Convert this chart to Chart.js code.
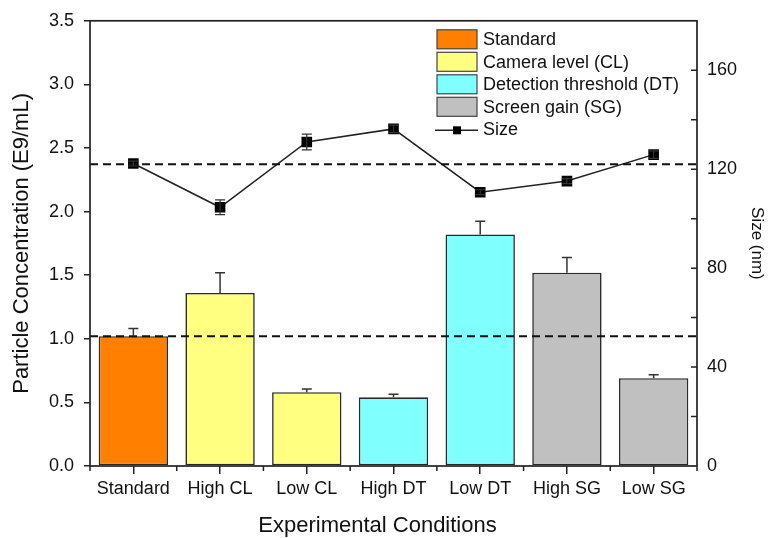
<!DOCTYPE html>
<html><head><meta charset="utf-8">
<script src="https://cdn.jsdelivr.net/npm/chart.js@4/dist/chart.umd.min.js"></script>
<style>html,body{margin:0;padding:0;background:#fff}canvas{display:block}</style>
</head><body>
<canvas id="c" width="776" height="538"></canvas>
<script>
// ---- data ----
const categories = ['Standard', 'High CL', 'Low CL', 'High DT', 'Low DT', 'High SG', 'Low SG'];
const concentration = [1.02, 1.36, 0.58, 0.54, 1.82, 1.52, 0.69];
const concentrationErr = [0.06, 0.16, 0.025, 0.025, 0.105, 0.12, 0.027];
const sizeNm = [122.3, 104.6, 131.0, 136.3, 110.7, 115.2, 125.9];
const sizeErr = [1.0, 3.0, 3.2, 1.5, 1.0, 1.0, 1.5];
const groupLabels = ['Standard', 'Camera level (CL)', 'Detection threshold (DT)', 'Screen gain (SG)'];
const groupOfCategory = [0, 1, 1, 2, 2, 3, 3];
const groupColors = ['#FF8000', '#FFFF80', '#80FFFF', '#C0C0C0'];
const refConcentration = 1.02;
const refSize = 122;
const leftTicks = [0, 0.5, 1, 1.5, 2, 2.5, 3, 3.5];
const rightTicks = [0, 40, 80, 120, 160];
const xTitle = 'Experimental Conditions';

const FONT = '"Liberation Sans", Arial, Helvetica, sans-serif';
const INK = '#222';

const barDatasets = groupLabels.map((lab, g) => ({
  type: 'bar',
  label: lab,
  data: concentration.map((v, i) => groupOfCategory[i] === g ? v : null),
  backgroundColor: groupColors[g],
  borderColor: '#2a2a2a',
  borderWidth: 1.6,
  borderSkipped: false,
  barPercentage: 0.8,
  categoryPercentage: 1.0,
  yAxisID: 'y',
  order: 2
}));

const sizeDataset = {
  type: 'line',
  label: 'Size',
  data: sizeNm,
  yAxisID: 'y1',
  borderColor: INK,
  borderWidth: 1.5,
  pointStyle: 'rect',
  pointRadius: 7.5,
  pointBackgroundColor: '#000',
  pointBorderColor: '#000',
  pointBorderWidth: 0,
  tension: 0,
  order: 1
};

const decor = {
  id: 'decor',
  afterDatasetsDraw(chart) {
    const { ctx, chartArea: a, scales: { x, y, y1 } } = chart;
    ctx.save();
    // dashed reference lines
    ctx.setLineDash([8, 5]);
    ctx.lineWidth = 2;
    ctx.strokeStyle = '#111';
    [[y, refConcentration], [y1, refSize]].forEach(([s, v]) => {
      const py = s.getPixelForValue(v);
      ctx.beginPath(); ctx.moveTo(a.left, py); ctx.lineTo(a.right, py); ctx.stroke();
    });
    ctx.setLineDash([]);
    // bar error bars (upper only)
    ctx.lineWidth = 1.5;
    ctx.strokeStyle = '#333';
    concentration.forEach((v, i) => {
      const px = x.getPixelForValue(i);
      const top = y.getPixelForValue(v);
      const cap = y.getPixelForValue(v + concentrationErr[i]);
      ctx.beginPath();
      ctx.moveTo(px, top); ctx.lineTo(px, cap);
      ctx.moveTo(px - 5, cap); ctx.lineTo(px + 5, cap);
      ctx.stroke();
    });
    // size error bars
    ctx.lineWidth = 1.2;
    sizeNm.forEach((v, i) => {
      const px = x.getPixelForValue(i);
      const hi = y1.getPixelForValue(v + sizeErr[i]);
      const lo = y1.getPixelForValue(v - sizeErr[i]);
      ctx.beginPath();
      ctx.moveTo(px, hi); ctx.lineTo(px, lo);
      ctx.moveTo(px - 5, hi); ctx.lineTo(px + 5, hi);
      ctx.moveTo(px - 5, lo); ctx.lineTo(px + 5, lo);
      ctx.stroke();
    });
    ctx.restore();
  },
  afterDraw(chart) {
    const { ctx, chartArea: a, scales: { x, y1 } } = chart;
    ctx.save();
    ctx.strokeStyle = INK;
    ctx.lineWidth = 1.7;
    // frame
    ctx.strokeRect(a.left, a.top, a.right - a.left, a.bottom - a.top);
    ctx.lineWidth = 1.5;
    // x boundary minor ticks
    ctx.beginPath();
    for (let i = 0; i <= categories.length; i++) {
      const px = x.getPixelForValue(i - 0.5);
      ctx.moveTo(px, a.bottom); ctx.lineTo(px, a.bottom + 5);
    }
    // right axis inward ticks (major + minor)
    for (let v = 20; v <= 160; v += 20) {
      const py = y1.getPixelForValue(v);
      ctx.moveTo(a.right - 6, py); ctx.lineTo(a.right, py);
    }
    ctx.stroke();
    // x axis title (slightly left of centre, as in the original figure)
    ctx.font = '22px ' + FONT;
    ctx.fillStyle = '#111';
    ctx.textAlign = 'center';
    ctx.textBaseline = 'alphabetic';
    ctx.fillText(xTitle, (a.left + a.right) / 2 - 16, 532);
    // legend
    ctx.textAlign = 'left';
    const lx = a.right - 260, ly = a.top + 9, step = 22.5, bw = 40, bh = 19;
    ctx.font = '18px ' + FONT;
    ctx.textBaseline = 'middle';
    const bars = chart.data.datasets.filter(d => d.type === 'bar');
    bars.forEach((d, k) => {
      const top = ly + k * step;
      ctx.fillStyle = d.backgroundColor;
      ctx.fillRect(lx, top, bw, bh);
      ctx.lineWidth = 1.2; ctx.strokeStyle = '#444';
      ctx.strokeRect(lx, top, bw, bh);
      ctx.fillStyle = '#111';
      ctx.fillText(d.label, lx + bw + 6, top + bh / 2 + 1);
    });
    const sy = ly + bars.length * step + bh / 2 + 1;
    ctx.strokeStyle = INK; ctx.lineWidth = 1.5;
    ctx.beginPath(); ctx.moveTo(lx - 2, sy); ctx.lineTo(lx + bw + 1, sy); ctx.stroke();
    ctx.fillStyle = '#000';
    ctx.fillRect(lx + bw / 2 - 4, sy - 4, 8, 8);
    ctx.fillStyle = '#111';
    ctx.fillText(sizeDataset.label, lx + bw + 6, sy);
    ctx.restore();
  }
};

new Chart(document.getElementById('c'), {
  data: { labels: categories, datasets: [...barDatasets, sizeDataset] },
  options: {
    responsive: false,
    animation: false,
    layout: { padding: { top: 17, left: 0, right: 0, bottom: 0 } },
    plugins: { legend: { display: false }, tooltip: { enabled: false } },
    scales: {
      x: {
        type: 'category',
        stacked: true,
        offset: true,
        grid: { display: true, offset: false, drawOnChartArea: false, drawTicks: true, tickLength: 8, color: INK, lineWidth: 1.5 },
        border: { display: false },
        ticks: { color: '#111', font: { family: FONT, size: 18 }, padding: 4, maxRotation: 0, autoSkip: false },
        title: { display: false, text: xTitle },
        afterFit(s) { s.height = 72; }
      },
      y: {
        type: 'linear',
        position: 'left',
        stacked: true,
        min: 0, max: 3.5,
        afterBuildTicks(s) { s.ticks = leftTicks.map(v => ({ value: v })); },
        grid: { display: true, drawOnChartArea: false, drawTicks: true, tickLength: 6, color: INK, lineWidth: 1.5 },
        border: { display: false },
        ticks: { color: '#111', font: { family: FONT, size: 18 }, padding: 10, callback: v => Number(v).toFixed(1) },
        title: { display: true, text: 'Particle Concentration (E9/mL)', color: '#111', font: { family: FONT, size: 22, lineHeight: 1.2 }, padding: { top: 9, bottom: 0 } },
        afterFit(s) { s.width = 90; }
      },
      y1: {
        type: 'linear',
        position: 'right',
        min: 0, max: 180,
        afterBuildTicks(s) { s.ticks = rightTicks.map(v => ({ value: v })); },
        grid: { display: false, drawTicks: false },
        border: { display: false },
        ticks: { color: '#111', font: { family: FONT, size: 18 }, padding: 10, callback: v => String(v) },
        title: { display: true, text: 'Size (nm)', color: '#111', font: { family: FONT, size: 17, lineHeight: 1.2 }, padding: { top: 9, bottom: 0 } },
        afterFit(s) { s.width = 79; }
      }
    }
  },
  plugins: [decor]
});
</script>
</body></html>
